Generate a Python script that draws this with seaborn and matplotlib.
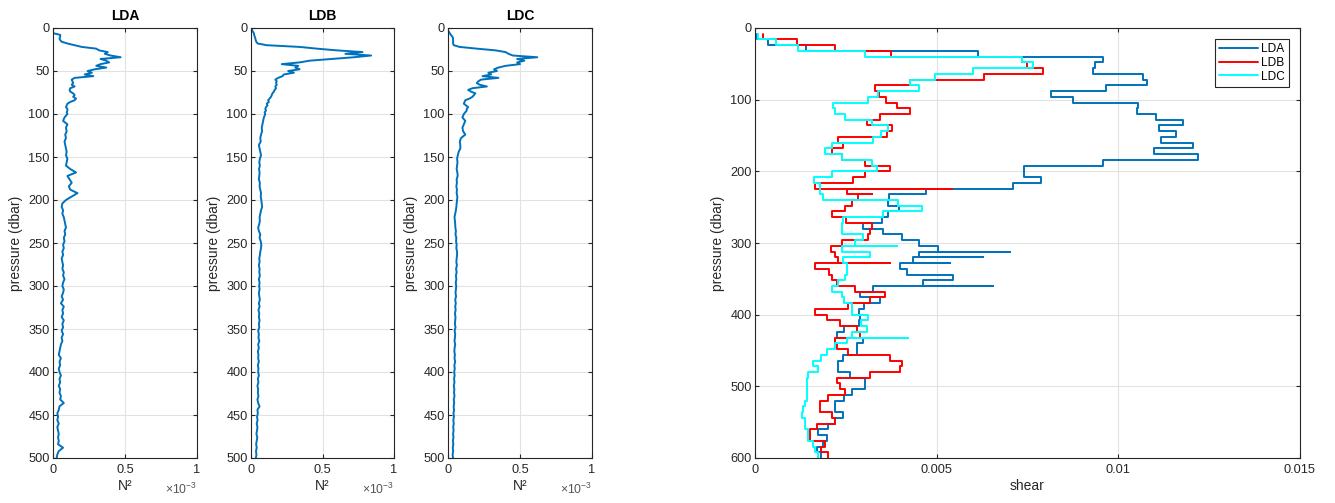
import numpy as np
import matplotlib
matplotlib.use("Agg")
import matplotlib.pyplot as plt
import matplotlib.transforms as mtransforms
import seaborn as sns

# ---------------- data ----------------
# N^2 profiles (units of 1e-3 s^-2); pressure grid: 2..100 every 2 dbar, 104..500 every 4 dbar
pressure_top = np.arange(2, 101, 2)
pressure_deep = np.arange(104, 501, 4)

lda_n2_top = [np.nan, np.nan, 0.0, 0.05, 0.05, 0.045, 0.05, 0.06, 0.10, 0.15,
              0.20, 0.30, 0.32, 0.38, 0.36, 0.40, 0.47, 0.33, 0.37, 0.39,
              0.33, 0.30, 0.37, 0.29, 0.24, 0.27, 0.22, 0.28, 0.15, 0.13,
              0.135, 0.14, 0.13, 0.15, 0.12, 0.115, 0.12, 0.14, 0.15, 0.14,
              0.16, 0.15, 0.12, 0.10, 0.095, 0.09, 0.10, 0.10, 0.095, 0.10]
lda_n2_deep = [0.08, 0.07, 0.10, 0.09, 0.095, 0.085, 0.09, 0.08, 0.085, 0.09,
               0.095, 0.09, 0.10, 0.095, 0.09, 0.12, 0.16, 0.10, 0.115, 0.13,
               0.11, 0.12, 0.17, 0.13, 0.09, 0.065, 0.06, 0.07, 0.065, 0.075,
               0.08, 0.085, 0.09, 0.08, 0.085, 0.075, 0.08, 0.07, 0.075, 0.065,
               0.07, 0.06, 0.065, 0.07, 0.065, 0.075, 0.07, 0.08, 0.07, 0.065,
               0.075, 0.07, 0.06, 0.07, 0.055, 0.075, 0.065, 0.07, 0.06, 0.075,
               0.065, 0.07, 0.06, 0.07, 0.06, 0.065, 0.055, 0.05, 0.045, 0.04,
               0.055, 0.045, 0.05, 0.04, 0.045, 0.055, 0.045, 0.05, 0.04, 0.05,
               0.045, 0.055, 0.05, 0.075, 0.045, 0.04, 0.03, 0.035, 0.03, 0.04,
               0.03, 0.035, 0.04, 0.035, 0.04, 0.035, 0.07, 0.04, 0.03, 0.025]

ldb_n2_top = [0.007, 0.012, 0.02, 0.022, 0.026, 0.03, 0.033, 0.037, 0.046, 0.11,
              0.34, 0.46, 0.60, 0.78, 0.66, 0.84, 0.72, 0.56, 0.41, 0.34,
              0.215, 0.33, 0.31, 0.34, 0.26, 0.30, 0.23, 0.22, 0.19, 0.17,
              0.18, 0.175, 0.18, 0.17, 0.175, 0.165, 0.16, 0.15, 0.145, 0.14,
              0.13, 0.12, 0.125, 0.11, 0.115, 0.105, 0.10, 0.105, 0.095, 0.10]
ldb_n2_deep = [0.09, 0.085, 0.08, 0.075, 0.078, 0.07, 0.065, 0.068, 0.055, 0.06,
               0.065, 0.07, 0.062, 0.058, 0.062, 0.056, 0.06, 0.058, 0.055, 0.062,
               0.06, 0.065, 0.07, 0.068, 0.072, 0.075, 0.078, 0.07, 0.065, 0.06,
               0.062, 0.058, 0.05, 0.055, 0.065, 0.06, 0.068, 0.072, 0.07, 0.065,
               0.062, 0.058, 0.06, 0.055, 0.06, 0.058, 0.062, 0.055, 0.06, 0.057,
               0.06, 0.055, 0.058, 0.062, 0.055, 0.06, 0.052, 0.058, 0.055, 0.06,
               0.055, 0.058, 0.05, 0.055, 0.052, 0.058, 0.05, 0.055, 0.048, 0.052,
               0.05, 0.055, 0.048, 0.052, 0.05, 0.055, 0.048, 0.052, 0.045, 0.05,
               0.048, 0.052, 0.045, 0.05, 0.06, 0.045, 0.048, 0.042, 0.046, 0.04,
               0.045, 0.042, 0.038, 0.044, 0.04, 0.036, 0.04, 0.035, 0.038, 0.034]

ldc_n2_top = [np.nan, 0.005, 0.012, 0.02, 0.03, 0.035, 0.035, 0.036, 0.035, 0.04,
              0.08, 0.20, 0.33, 0.40, 0.42, 0.45, 0.62, 0.48, 0.53, 0.48,
              0.50, 0.40, 0.35, 0.32, 0.34, 0.28, 0.30, 0.24, 0.35, 0.23,
              0.21, 0.20, 0.22, 0.27, 0.17, 0.14, 0.16, 0.19, 0.18, 0.17,
              0.15, 0.12, 0.115, 0.11, 0.125, 0.14, 0.13, 0.13, 0.12, 0.11]
ldc_n2_deep = [0.10, 0.12, 0.11, 0.10, 0.105, 0.12, 0.09, 0.082, 0.085, 0.086,
               0.074, 0.068, 0.063, 0.066, 0.063, 0.06, 0.065, 0.067, 0.06, 0.062,
               0.058, 0.062, 0.06, 0.065, 0.063, 0.06, 0.058, 0.055, 0.05, 0.045,
               0.048, 0.05, 0.051, 0.055, 0.052, 0.058, 0.056, 0.06, 0.058, 0.063,
               0.063, 0.06, 0.058, 0.062, 0.056, 0.06, 0.055, 0.058, 0.054, 0.057,
               0.055, 0.052, 0.056, 0.05, 0.054, 0.05, 0.053, 0.048, 0.052, 0.05,
               0.048, 0.052, 0.046, 0.05, 0.048, 0.045, 0.05, 0.046, 0.044, 0.048,
               0.045, 0.05, 0.044, 0.047, 0.043, 0.046, 0.042, 0.045, 0.04, 0.044,
               0.042, 0.045, 0.04, 0.043, 0.039, 0.042, 0.038, 0.041, 0.037, 0.04,
               0.036, 0.039, 0.035, 0.038, 0.034, 0.037, 0.033, 0.036, 0.032, 0.035]

# shear profiles (units of 1e-3), 8-dbar bins from 8 to 600 dbar
shear_edges = np.arange(8, 601, 8)
lda_shear = [0.05, 0.35, 1.39, 6.13, 9.59, 9.36, 9.31, 10.67, 10.78, 9.66,
             8.15, 8.74, 10.55, 10.50, 11.03, 11.77, 11.13, 11.59, 11.17, 12.05,
             10.98, 12.18, 9.57, 7.41, 7.41, 7.87, 7.11, 4.72, 3.69, 3.65,
             3.95, 3.67, 3.49, 2.98, 3.53, 4.04, 4.50, 5.05, 4.50, 4.36,
             3.99, 4.17, 5.46, 4.63, 3.26, 2.90, 3.44, 3.00, 2.86, 2.90,
             2.85, 2.46, 2.25, 2.98, 2.80, 2.80, 2.43, 2.28, 2.28, 2.61,
             3.03, 3.03, 2.66, 2.46, 2.20, 2.20, 2.43, 2.20, 2.02, 1.74,
             1.97, 1.88, 1.70, 1.83]
ldb_shear = [0.23, 1.15, 2.20, 3.74, 7.34, 7.48, 7.92, 6.31, 4.27, 3.30,
             3.42, 3.60, 3.90, 4.27, 3.44, 3.07, 3.76, 3.62, 2.29, 2.43,
             2.11, 2.40, 3.03, 3.72, 3.03, 2.71, 1.65, 2.52, 2.84, 2.66,
             2.48, 2.13, 2.50, 3.21, 3.17, 3.12, 2.39, 2.09, 2.20, 2.29,
             1.65, 2.04, 2.13, 2.25, 2.75, 3.58, 3.17, 2.55, 1.65, 1.97,
             2.34, 2.80, 2.90, 2.20, 2.25, 2.55, 3.72, 4.04, 4.00, 3.17,
             2.25, 2.34, 2.48, 2.02, 1.79, 1.79, 2.11, 2.20, 1.70, 1.51,
             1.51, 1.93, 1.83, 2.02]
ldc_shear = [0.09, 0.57, 1.19, 3.03, 7.34, 7.66, 6.01, 4.95, 4.27, 4.50,
             3.39, 3.12, 2.16, 2.20, 2.48, 3.21, 3.65, 3.47, 3.26, 2.11,
             1.94, 2.40, 3.21, 3.35, 2.11, 1.63, 1.79, 1.79, 1.88, 3.94,
             4.59, 3.53, 2.43, 2.40, 2.40, 2.98, 2.75, 2.39, 3.17, 2.43,
             2.52, 2.52, 2.48, 2.29, 2.11, 2.40, 2.45, 2.66, 2.66, 3.12,
             2.92, 3.07, 2.66, 2.52, 2.20, 1.97, 1.83, 1.61, 1.74, 1.47,
             1.42, 1.42, 1.42, 1.42, 1.38, 1.33, 1.28, 1.38, 1.38, 1.45,
             1.45, 1.61, 1.65, 1.74]
# single-sample spikes (depth, value 1e-3)
lda_spike_depth = [312, 320, 328, 360]
lda_spike_val = [7.02, 6.28, 5.37, 6.56]
ldb_spike_depth = [224, 232, 328]
ldb_spike_val = [5.41, 3.21, 3.72]
ldc_spike_depth = [304, 432]
ldc_spike_val = [3.90, 4.22]

stations = ["LDA", "LDB", "LDC"]
colors = ["#0072BD", "#FF0000", "#00FFFF"]

# ---------------- style ----------------
sns.set_theme(style="white")
plt.rcParams["font.family"] = ["Liberation Sans", "DejaVu Sans"]
plt.rcParams["mathtext.fontset"] = "custom"
plt.rcParams["mathtext.rm"] = "Liberation Sans"
plt.rcParams["mathtext.it"] = "Liberation Sans:italic"
plt.rcParams["mathtext.bf"] = "Liberation Sans:bold"

DARK = "#262626"
TICK_FS = 9.2
LABEL_FS = 10
W, H = 1335, 503
fig = plt.figure(figsize=(W / 100, H / 100), dpi=100)


def add_ax(l, t, r, b):
    return fig.add_axes([l / W, 1 - b / H, (r - l) / W, (b - t) / H])


def matlab_style(ax):
    for s in ax.spines.values():
        s.set_color(DARK)
        s.set_linewidth(0.8)
    ax.tick_params(axis="both", direction="in", length=3, width=0.8, color=DARK,
                   labelcolor=DARK, labelsize=TICK_FS, top=True, right=True,
                   bottom=True, left=True)
    ax.tick_params(axis="x", pad=4.5)
    ax.tick_params(axis="y", pad=2.5)
    ax.grid(True, color="#e2e2e2", linewidth=0.8)
    ax.set_axisbelow(True)


n2_profiles = [
    (lda_n2_top + lda_n2_deep),
    (ldb_n2_top + ldb_n2_deep),
    (ldc_n2_top + ldc_n2_deep),
]
pressure = np.concatenate([pressure_top, pressure_deep])

boxes = [(53, 28, 197, 458), (251, 28, 394, 458), (448, 28, 592, 458)]
for name, vals, box in zip(stations, n2_profiles, boxes):
    ax = add_ax(*box)
    sns.lineplot(x=np.array(vals, dtype=float), y=pressure, sort=False,
                 estimator=None, color=colors[0], linewidth=1.4, ax=ax)
    ax.set_xlim(0, 1)
    ax.set_ylim(500, 0)
    ax.set_xticks([0, 0.5, 1])
    ax.set_xticklabels(["0", "0.5", "1"])
    ax.set_yticks(np.arange(0, 501, 50))
    matlab_style(ax)
    ax.set_title(name, fontsize=LABEL_FS, fontweight="bold", color="black", pad=6)
    ax.set_ylabel("pressure (dbar)", fontsize=LABEL_FS, color=DARK, labelpad=4)
    ax.set_xlabel("N²", fontsize=LABEL_FS, color=DARK, labelpad=2)
    trans = mtransforms.offset_copy(ax.transAxes, fig=fig, x=0, y=-17, units="points")
    ax.text(1.0, 0.0, r"$\times10^{-3}$", transform=trans, ha="right", va="top",
            fontsize=8.8, color="#555555")


def stair_path(values, spike_depth, spike_val):
    spikes = dict(zip(spike_depth, spike_val))
    xs, ys = [], []
    for i, v in enumerate(values):
        top, bot = shear_edges[i], shear_edges[i + 1]
        if top in spikes:
            xs.append(spikes[top])
            ys.append(top)
        xs += [v, v]
        ys += [top, bot]
    return np.array(xs) * 1e-3, np.array(ys, dtype=float)


ax4 = add_ax(755, 28, 1300, 458)
shear_sets = [
    (lda_shear, lda_spike_depth, lda_spike_val),
    (ldb_shear, ldb_spike_depth, ldb_spike_val),
    (ldc_shear, ldc_spike_depth, ldc_spike_val),
]
for name, col, (vals, sd, sv) in zip(stations, colors, shear_sets):
    x, y = stair_path(vals, sd, sv)
    sns.lineplot(x=x, y=y, sort=False, estimator=None, color=col,
                 linewidth=1.4, label=name, ax=ax4)
ax4.set_xlim(0, 0.015)
ax4.set_ylim(600, 0)
ax4.set_xticks([0, 0.005, 0.01, 0.015])
ax4.set_xticklabels(["0", "0.005", "0.01", "0.015"])
ax4.set_yticks(np.arange(0, 601, 100))
matlab_style(ax4)
ax4.set_ylabel("pressure (dbar)", fontsize=LABEL_FS, color=DARK, labelpad=4)
ax4.set_xlabel("shear", fontsize=LABEL_FS, color=DARK, labelpad=2)
leg = ax4.legend(loc="upper right", fontsize=8.6, frameon=True, fancybox=False,
                 framealpha=1, edgecolor=DARK, borderaxespad=0.9,
                 handlelength=3.2, handletextpad=0.3, labelspacing=0.15,
                 borderpad=0.35)
leg.get_frame().set_linewidth(0.8)
for t in leg.get_texts():
    t.set_color("black")

fig.savefig("out.png", dpi=100)
